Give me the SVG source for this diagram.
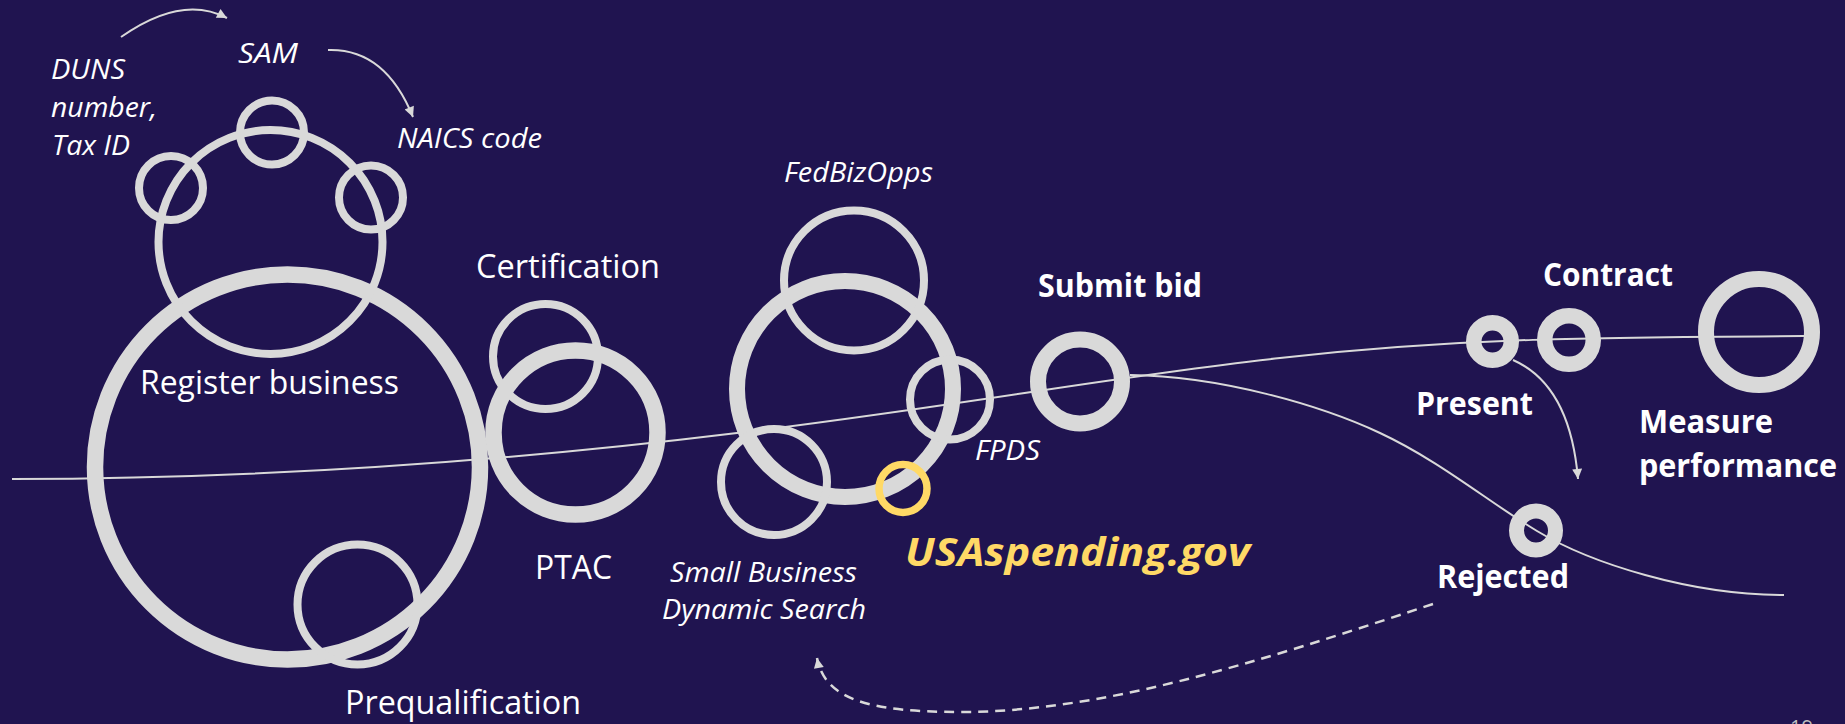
<svg xmlns="http://www.w3.org/2000/svg" width="1845" height="724" viewBox="0 0 1845 724">
<style>
.ring{fill:none;stroke:#d9d9d9}
.thin{stroke-width:8}
.thick{stroke-width:16.5}
.yel{fill:none;stroke:#ffd966;stroke-width:7.5}
.t{font-family:"Open Sans","Noto Sans","DejaVu Sans",sans-serif;fill:#ffffff}
.reg{font-size:32px}
.it{font-size:28px;font-style:italic}
.bd{font-size:32px;font-weight:bold}
.ln{fill:none;stroke:#d9d9d9;stroke-width:2}
.ar{fill:none;stroke:#d9d9d9;stroke-width:2;marker-end:url(#ah)}
.dash{fill:none;stroke:#d9d9d9;stroke-width:2.5;stroke-dasharray:10 7;marker-end:url(#ah)}
</style>
<defs>
<marker id="ah" viewBox="0 0 10 10" refX="10" refY="5" markerWidth="13" markerHeight="10" markerUnits="userSpaceOnUse" orient="auto">
<path d="M0,0 L10,5 L0,10 z" fill="#d9d9d9"/>
</marker>
</defs>
<rect x="0" y="0" width="1845" height="724" fill="#201450"/>

<g id="connectors">
<path class="ln" d="M12,479 C250,479 500,462 737,433 S1100,378 1280,358 S1600,337 1804,336"/>
<path class="ln" d="M1130,375 C1220,376 1320,405 1380,433 C1440,461 1490,503 1537,531 C1590,563 1690,595 1784,595"/>
<path class="ar" d="M121,37 Q182,-6 227,18"/>
<path class="ar" d="M328,50 Q385,48 413,117"/>
<path class="ar" d="M1513,360 Q1570,385 1578,479"/>
<path class="dash" d="M1433,604 C1250,665 1100,712 960,712 C870,712 825,700 817,658"/>
</g>

<g id="register-business">
<circle class="ring thick" cx="287.5" cy="467" r="192.5"/>
<text class="t reg" x="140" y="394" textLength="259" lengthAdjust="spacingAndGlyphs">Register business</text>
</g>
<g id="sam-group">
<circle class="ring thin" cx="270.5" cy="242" r="112"/>
</g>
<g id="sam">
<circle class="ring thin" cx="272" cy="132.5" r="32"/>
<text class="t it" x="238" y="63" textLength="60" lengthAdjust="spacingAndGlyphs">SAM</text>
</g>
<g id="duns">
<circle class="ring thin" cx="171" cy="188" r="32"/>
<text class="t it" x="51" y="79" textLength="74" lengthAdjust="spacingAndGlyphs">DUNS</text>
<text class="t it" x="51" y="117" textLength="106" lengthAdjust="spacingAndGlyphs">number,</text>
<text class="t it" x="52" y="155" textLength="78" lengthAdjust="spacingAndGlyphs">Tax ID</text>
</g>
<g id="naics">
<circle class="ring thin" cx="371" cy="197.5" r="32"/>
<text class="t it" x="397" y="148" textLength="145" lengthAdjust="spacingAndGlyphs">NAICS code</text>
</g>
<g id="prequalification">
<circle class="ring thin" cx="357.5" cy="604.5" r="60"/>
<text class="t reg" x="345" y="714" textLength="236" lengthAdjust="spacingAndGlyphs">Prequalification</text>
</g>
<g id="certification">
<circle class="ring thin" cx="545.5" cy="356.5" r="52.5"/>
<text class="t reg" x="476" y="278" textLength="184" lengthAdjust="spacingAndGlyphs">Certification</text>
</g>
<g id="ptac">
<circle class="ring thick" cx="575.5" cy="432.5" r="82"/>
<text class="t reg" x="535" y="579" textLength="77" lengthAdjust="spacingAndGlyphs">PTAC</text>
</g>
<g id="search-hub">
<circle class="ring" stroke-width="16" cx="845" cy="389" r="108"/>
</g>
<g id="fedbizopps">
<circle class="ring thin" cx="854" cy="280.5" r="70"/>
<text class="t it" x="784" y="182" textLength="149" lengthAdjust="spacingAndGlyphs">FedBizOpps</text>
</g>
<g id="fpds">
<circle class="ring thin" cx="950" cy="399.5" r="40"/>
<text class="t it" x="975" y="460" textLength="65" lengthAdjust="spacingAndGlyphs">FPDS</text>
</g>
<g id="small-business-search">
<circle class="ring thin" cx="774" cy="482" r="53"/>
<text class="t it" x="670" y="582" textLength="187" lengthAdjust="spacingAndGlyphs">Small Business</text>
<text class="t it" x="662" y="619" textLength="204" lengthAdjust="spacingAndGlyphs">Dynamic Search</text>
</g>
<g id="usaspending">
<circle class="yel" cx="903" cy="488.5" r="24"/>
<text class="t" x="905" y="566" font-size="40" font-weight="bold" font-style="italic" fill="#ffd966" style="fill:#ffd966" textLength="345" lengthAdjust="spacingAndGlyphs">USAspending.gov</text>
</g>
<g id="submit-bid">
<circle class="ring" stroke-width="16" cx="1080" cy="381.5" r="42"/>
<text class="t bd" x="1038" y="297" textLength="164" lengthAdjust="spacingAndGlyphs">Submit bid</text>
</g>
<g id="present">
<circle class="ring" stroke-width="15.5" cx="1492.5" cy="341.5" r="18.75"/>
<text class="t bd" x="1416" y="415" textLength="117" lengthAdjust="spacingAndGlyphs">Present</text>
</g>
<g id="contract">
<circle class="ring" stroke-width="15.5" cx="1569" cy="340" r="24.25"/>
<text class="t bd" x="1543" y="286" textLength="130" lengthAdjust="spacingAndGlyphs">Contract</text>
</g>
<g id="measure-performance">
<circle class="ring" stroke-width="16" cx="1759" cy="332" r="53"/>
<text class="t bd" x="1639" y="433" textLength="134" lengthAdjust="spacingAndGlyphs">Measure</text>
<text class="t bd" x="1639" y="477" textLength="198" lengthAdjust="spacingAndGlyphs">performance</text>
</g>
<g id="rejected">
<circle class="ring" stroke-width="15" cx="1536" cy="530.5" r="19.5"/>
<text class="t bd" x="1437" y="588" textLength="132" lengthAdjust="spacingAndGlyphs">Rejected</text>
</g>
<g id="page-number">
<text class="t" x="1790" y="734" font-size="20" style="fill:#bfbfbf">19</text>
</g>
</svg>
